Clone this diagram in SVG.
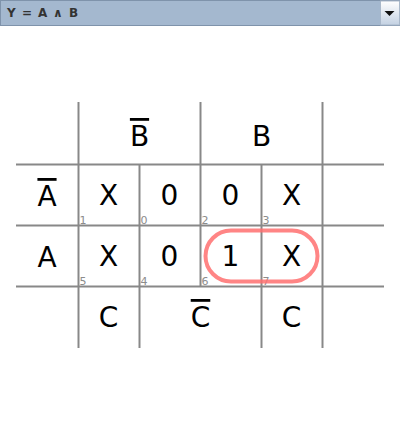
<svg xmlns="http://www.w3.org/2000/svg" width="400" height="424" viewBox="0 0 400 424">
  <defs>
    <linearGradient id="btn" x1="0" y1="0" x2="0" y2="1">
      <stop offset="0" stop-color="#ffffff"/>
      <stop offset="1" stop-color="#c3d1e2"/>
    </linearGradient>
  </defs>
  <style>
    .grid { stroke: #888; stroke-width: 2; fill: none; }
    .big { font-family: "DejaVu Sans", sans-serif; font-size: 28px; fill: #000; text-anchor: middle; }
    .bar { text-decoration: overline; }
    .idx { font-family: "DejaVu Sans", sans-serif; font-size: 11px; fill: #8c8c8c; }
    .combo { font-family: "DejaVu Sans", sans-serif; font-size: 12px; font-weight: bold; fill: #333; }
  </style>
  <rect width="400" height="424" fill="#ffffff"/>

  <g id="combo">
    <rect x="0.5" y="0.5" width="399" height="25" fill="#a4b8cf" stroke="#7f93ab"/>
    <rect x="380.5" y="1" width="19" height="24" fill="url(#btn)" stroke="#a9b8ca"/>
    <polygon points="384.5,11 394.5,11 389.5,16" fill="#111"/>
    <text class="combo" y="17"><tspan x="7">Y</tspan><tspan x="22">=</tspan><tspan x="38">A</tspan><tspan x="53">∧</tspan><tspan x="69">B</tspan></text>
  </g>

  <g id="grid">
    <line class="grid" x1="78.5" y1="102" x2="78.5" y2="348"/>
    <line class="grid" x1="200.5" y1="102" x2="200.5" y2="286"/>
    <line class="grid" x1="322.5" y1="102" x2="322.5" y2="348"/>
    <line class="grid" x1="139.5" y1="164" x2="139.5" y2="348"/>
    <line class="grid" x1="261.5" y1="164" x2="261.5" y2="348"/>
    <line class="grid" x1="16" y1="164.5" x2="384" y2="164.5"/>
    <line class="grid" x1="16" y1="225.5" x2="384" y2="225.5"/>
    <line class="grid" x1="16" y1="286.5" x2="384" y2="286.5"/>
  </g>

  <g id="headers">
    <text class="big bar" x="139.5" y="146">B</text>
    <text class="big" x="261.5" y="146">B</text>
    <text class="big bar" x="47" y="206">A</text>
    <text class="big" x="47" y="267">A</text>
    <text class="big" x="108.5" y="327">C</text>
    <text class="big bar" x="200.5" y="327">C</text>
    <text class="big" x="291.5" y="327">C</text>
  </g>

  <g id="cell-1"><text class="big" x="108.5" y="205">X</text><text class="idx" x="79.5" y="224">1</text></g>
  <g id="cell-0"><text class="big" x="169.5" y="205">0</text><text class="idx" x="140.5" y="224">0</text></g>
  <g id="cell-2"><text class="big" x="230.5" y="205">0</text><text class="idx" x="201.5" y="224">2</text></g>
  <g id="cell-3"><text class="big" x="291.5" y="205">X</text><text class="idx" x="262.5" y="224">3</text></g>
  <g id="cell-5"><text class="big" x="108.5" y="266">X</text><text class="idx" x="79.5" y="285">5</text></g>
  <g id="cell-4"><text class="big" x="169.5" y="266">0</text><text class="idx" x="140.5" y="285">4</text></g>
  <g id="cell-6"><text class="big" x="230.5" y="266">1</text><text class="idx" x="201.5" y="285">6</text></g>
  <g id="cell-7"><text class="big" x="291.5" y="266">X</text><text class="idx" x="262.5" y="285">7</text></g>

  <g id="group-loop">
    <rect x="205.5" y="230.5" width="112" height="51" rx="25.5" ry="25.5" fill="none" stroke="#ff7070" stroke-opacity="0.85" stroke-width="4"/>
  </g>
</svg>
